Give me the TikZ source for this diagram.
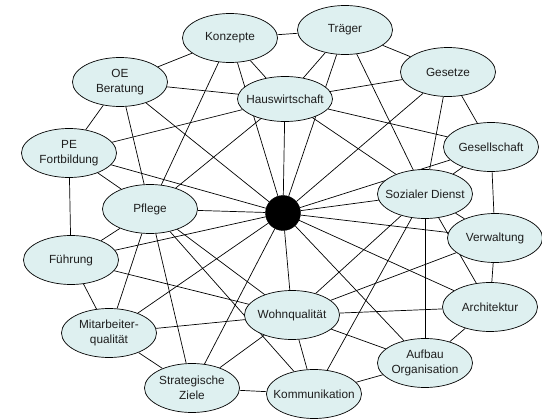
\documentclass[tikz,border=0pt]{standalone}
\usepackage{fontspec}
\setmainfont{Liberation Sans}
\usetikzlibrary{shapes.geometric,backgrounds}
\definecolor{topicfill}{RGB}{222,240,240}
\definecolor{inktext}{RGB}{30,30,30}
\begin{document}
\begin{tikzpicture}[x=1pt,y=-1pt,
  topic/.style={ellipse, draw=black, line width=0.7pt, fill=topicfill,
    minimum width=95pt, minimum height=49pt, inner sep=0pt},
  lbl/.style={align=center, text=inktext, inner sep=0pt,
    font=\fontsize{11.8}{15.5}\selectfont},
  hubdot/.style={circle, fill=black, draw=black, minimum size=35pt, inner sep=0pt},
  link/.style={draw=black, line width=0.7pt}]
\useasboundingbox (0,0) rectangle (542,420);

% topics around the central hub
\node[topic, label={[lbl]center:Konzepte}] (konz) at (230,38) {};
\node[topic, label={[lbl]center:Träger}] (traeger) at (345,30) {};
\node[topic, label={[lbl]center:Gesetze}] (gesetze) at (448,72) {};
\node[topic, minimum height=45pt, label={[lbl]center:Hauswirtschaft}] (haus) at (285,99) {};
\node[topic, label={[lbl]center:OE\\Beratung}] (oe) at (120,82) {};
\node[topic, label={[lbl]center:PE\\Fortbildung}] (pe) at (69,153) {};
\node[topic, label={[lbl]center:Pflege}] (pflege) at (150,209) {};
\node[topic, label={[lbl]center:Gesellschaft}] (gesell) at (491,147) {};
\node[topic, label={[lbl]center:Sozialer Dienst}] (sozial) at (425,194) {};
\node[topic, label={[lbl]center:Verwaltung}] (verw) at (495,238) {};
\node[topic, label={[lbl]center:Architektur}] (arch) at (490,307) {};
\node[topic, label={[lbl]center:Aufbau\\Organisation}] (aufbau) at (425,363) {};
\node[topic, label={[lbl]center:Kommunikation}] (komm) at (314,394) {};
\node[topic, label={[lbl]center:Wohnqualität}] (wohn) at (292,315) {};
\node[topic, label={[lbl]center:Strategische\\Ziele}] (strat) at (192,388) {};
\node[topic, label={[lbl]center:Mitarbeiter-\\qualität}] (mitarb) at (109,333) {};
\node[topic, label={[lbl]center:Führung}] (fuehr) at (71,260) {};
\node[hubdot] (hub) at (283,213) {};

\begin{pgfonlayer}{background}
% outer ring
\foreach \a/\b in {konz/traeger, traeger/gesetze, gesetze/gesell, gesell/verw,
  verw/arch, arch/aufbau, aufbau/komm, komm/strat, strat/mitarb,
  mitarb/fuehr, fuehr/pe, pe/oe, oe/konz}
  \draw[link] (\a) -- (\b);

% spokes of the hub
\foreach \a in {konz, oe, pe, pflege, fuehr, mitarb, strat, wohn, aufbau,
  arch, verw, sozial, gesell, gesetze, traeger, haus}
  \draw[link] (hub) -- (\a);

% cross links
\foreach \a/\b in {haus/konz, haus/traeger, haus/gesetze, haus/gesell,
  haus/oe, haus/pe, haus/pflege, haus/sozial,
  pflege/pe, pflege/fuehr, pflege/oe, pflege/konz, pflege/mitarb,
  pflege/strat, pflege/wohn, pflege/komm,
  sozial/traeger, sozial/gesetze, sozial/gesell, sozial/verw, sozial/arch,
  sozial/aufbau, sozial/komm, sozial/wohn,
  wohn/fuehr, wohn/mitarb, wohn/strat, wohn/komm, wohn/aufbau, wohn/arch,
  wohn/verw}
  \draw[link] (\a) -- (\b);
\end{pgfonlayer}
\end{tikzpicture}
\end{document}
